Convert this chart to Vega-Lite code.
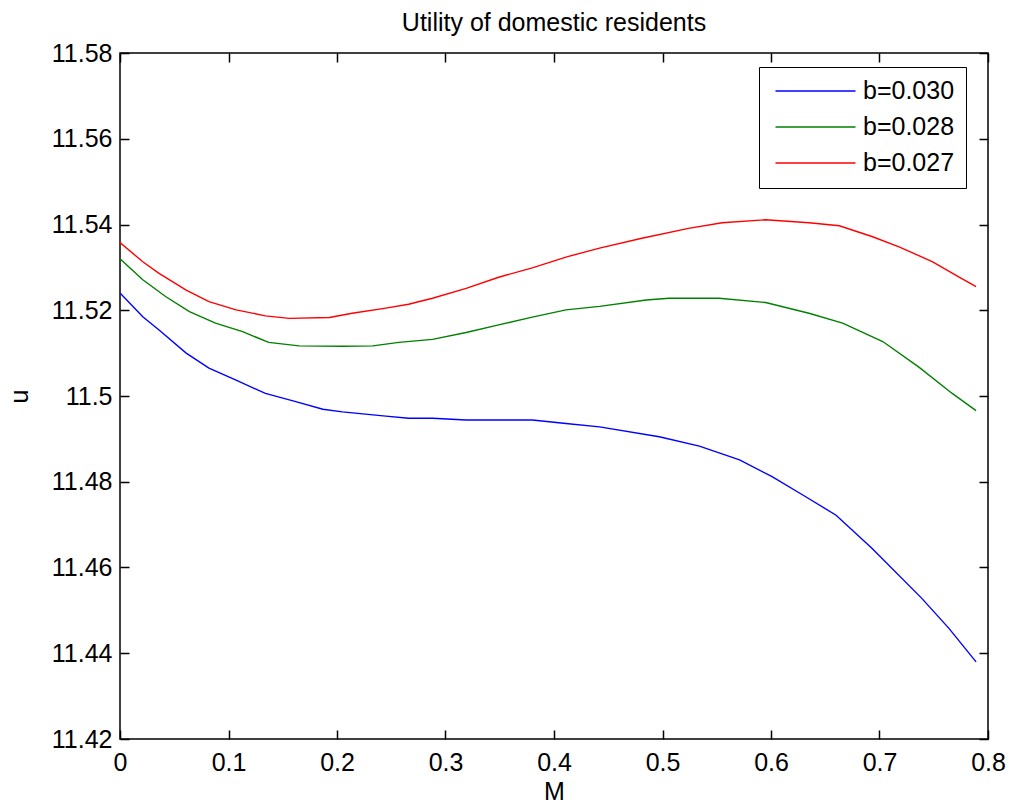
{
  "$schema": "https://vega.github.io/schema/vega-lite/v6.json",
  "width": 868,
  "height": 686,
  "autosize": "none",
  "padding": {"left": 120, "top": 53, "right": 23, "bottom": 73},
  "background": "white",
  "title": {"text": "Utility of domestic residents", "fontSize": 25, "fontWeight": "normal", "font": "Liberation Sans", "color": "black", "offset": 5, "anchor": "middle"},
  "config": {
    "view": {"stroke": "black", "strokeWidth": 1.5},
    "font": "Liberation Sans",
    "axis": {"grid": false, "domain": false, "tickColor": "black", "tickSize": -9, "tickWidth": 1.5, "labelColor": "black", "labelFontSize": 25, "titleFontSize": 25, "titleFontWeight": "normal", "titleColor": "black", "labelFont": "Liberation Sans", "titleFont": "Liberation Sans"}
  },
  "data": {"values": [
    {"b": "b=0.030", "M": 0.0, "u": 11.5240},
    {"b": "b=0.030", "M": 0.021, "u": 11.5185},
    {"b": "b=0.030", "M": 0.036, "u": 11.5154},
    {"b": "b=0.030", "M": 0.061, "u": 11.5100},
    {"b": "b=0.030", "M": 0.082, "u": 11.5065},
    {"b": "b=0.030", "M": 0.107, "u": 11.5037},
    {"b": "b=0.030", "M": 0.134, "u": 11.5006},
    {"b": "b=0.030", "M": 0.162, "u": 11.4987},
    {"b": "b=0.030", "M": 0.187, "u": 11.4969},
    {"b": "b=0.030", "M": 0.205, "u": 11.4963},
    {"b": "b=0.030", "M": 0.245, "u": 11.4953},
    {"b": "b=0.030", "M": 0.266, "u": 11.4948},
    {"b": "b=0.030", "M": 0.288, "u": 11.4948},
    {"b": "b=0.030", "M": 0.319, "u": 11.4944},
    {"b": "b=0.030", "M": 0.380, "u": 11.4944},
    {"b": "b=0.030", "M": 0.411, "u": 11.4936},
    {"b": "b=0.030", "M": 0.442, "u": 11.4928},
    {"b": "b=0.030", "M": 0.497, "u": 11.4905},
    {"b": "b=0.030", "M": 0.534, "u": 11.4883},
    {"b": "b=0.030", "M": 0.571, "u": 11.4851},
    {"b": "b=0.030", "M": 0.601, "u": 11.4812},
    {"b": "b=0.030", "M": 0.632, "u": 11.4765},
    {"b": "b=0.030", "M": 0.660, "u": 11.4722},
    {"b": "b=0.030", "M": 0.693, "u": 11.4645},
    {"b": "b=0.030", "M": 0.739, "u": 11.4528},
    {"b": "b=0.030", "M": 0.764, "u": 11.4458},
    {"b": "b=0.030", "M": 0.789, "u": 11.4380},
    {"b": "b=0.028", "M": 0.0, "u": 11.5320},
    {"b": "b=0.028", "M": 0.021, "u": 11.5271},
    {"b": "b=0.028", "M": 0.042, "u": 11.5232},
    {"b": "b=0.028", "M": 0.064, "u": 11.5197},
    {"b": "b=0.028", "M": 0.088, "u": 11.5170},
    {"b": "b=0.028", "M": 0.113, "u": 11.5150},
    {"b": "b=0.028", "M": 0.137, "u": 11.5125},
    {"b": "b=0.028", "M": 0.165, "u": 11.5117},
    {"b": "b=0.028", "M": 0.205, "u": 11.5116},
    {"b": "b=0.028", "M": 0.233, "u": 11.5117},
    {"b": "b=0.028", "M": 0.257, "u": 11.5125},
    {"b": "b=0.028", "M": 0.288, "u": 11.5132},
    {"b": "b=0.028", "M": 0.319, "u": 11.5148},
    {"b": "b=0.028", "M": 0.349, "u": 11.5166},
    {"b": "b=0.028", "M": 0.380, "u": 11.5184},
    {"b": "b=0.028", "M": 0.411, "u": 11.5201},
    {"b": "b=0.028", "M": 0.442, "u": 11.5209},
    {"b": "b=0.028", "M": 0.485, "u": 11.5224},
    {"b": "b=0.028", "M": 0.506, "u": 11.5228},
    {"b": "b=0.028", "M": 0.552, "u": 11.5228},
    {"b": "b=0.028", "M": 0.595, "u": 11.5218},
    {"b": "b=0.028", "M": 0.635, "u": 11.5193},
    {"b": "b=0.028", "M": 0.666, "u": 11.5170},
    {"b": "b=0.028", "M": 0.703, "u": 11.5127},
    {"b": "b=0.028", "M": 0.736, "u": 11.5068},
    {"b": "b=0.028", "M": 0.767, "u": 11.5006},
    {"b": "b=0.028", "M": 0.789, "u": 11.4966},
    {"b": "b=0.027", "M": 0.0, "u": 11.5358},
    {"b": "b=0.027", "M": 0.021, "u": 11.5313},
    {"b": "b=0.027", "M": 0.036, "u": 11.5286},
    {"b": "b=0.027", "M": 0.061, "u": 11.5247},
    {"b": "b=0.027", "M": 0.082, "u": 11.5220},
    {"b": "b=0.027", "M": 0.107, "u": 11.5201},
    {"b": "b=0.027", "M": 0.134, "u": 11.5187},
    {"b": "b=0.027", "M": 0.156, "u": 11.5181},
    {"b": "b=0.027", "M": 0.193, "u": 11.5183},
    {"b": "b=0.027", "M": 0.214, "u": 11.5193},
    {"b": "b=0.027", "M": 0.245, "u": 11.5205},
    {"b": "b=0.027", "M": 0.266, "u": 11.5214},
    {"b": "b=0.027", "M": 0.288, "u": 11.5228},
    {"b": "b=0.027", "M": 0.319, "u": 11.5251},
    {"b": "b=0.027", "M": 0.349, "u": 11.5277},
    {"b": "b=0.027", "M": 0.380, "u": 11.5299},
    {"b": "b=0.027", "M": 0.411, "u": 11.5324},
    {"b": "b=0.027", "M": 0.442, "u": 11.5345},
    {"b": "b=0.027", "M": 0.481, "u": 11.5368},
    {"b": "b=0.027", "M": 0.524, "u": 11.5391},
    {"b": "b=0.027", "M": 0.555, "u": 11.5404},
    {"b": "b=0.027", "M": 0.595, "u": 11.5411},
    {"b": "b=0.027", "M": 0.635, "u": 11.5404},
    {"b": "b=0.027", "M": 0.663, "u": 11.5397},
    {"b": "b=0.027", "M": 0.693, "u": 11.5372},
    {"b": "b=0.027", "M": 0.718, "u": 11.5348},
    {"b": "b=0.027", "M": 0.749, "u": 11.5313},
    {"b": "b=0.027", "M": 0.773, "u": 11.5278},
    {"b": "b=0.027", "M": 0.789, "u": 11.5255}
  ]},
  "layer": [
    {
      "mark": {"type": "line", "strokeWidth": 1.4, "clip": true},
      "encoding": {
        "x": {"field": "M", "type": "quantitative", "scale": {"domain": [0, 0.8], "nice": false, "zero": false},
              "axis": {"title": "M", "values": [0, 0.1, 0.2, 0.3, 0.4, 0.5, 0.6, 0.7, 0.8], "format": "~g", "labelPadding": 20, "titleY": 40, "labelFlush": false}},
        "y": {"field": "u", "type": "quantitative", "scale": {"domain": [11.42, 11.58], "nice": false, "zero": false},
              "axis": {"title": "u", "values": [11.42, 11.44, 11.46, 11.48, 11.5, 11.52, 11.54, 11.56, 11.58], "format": ".4~g", "labelPadding": 17, "titleX": -88, "labelFlush": false}},
        "color": {"field": "b", "type": "nominal",
                  "scale": {"domain": ["b=0.030", "b=0.028", "b=0.027"], "range": ["#0000ff", "#008000", "#ff0000"]},
                  "legend": {"title": null, "orient": "none", "legendX": 639, "legendY": 14, "symbolType": "M-4,0H4", "symbolSize": 400, "symbolStrokeWidth": 1.5, "symbolOffset": 32.5, "labelFontSize": 25, "labelColor": "black", "labelFont": "Liberation Sans", "labelExpr": "datum.label + '\u00a0'", "strokeColor": "black", "fillColor": "white", "padding": 11.5, "rowPadding": 10, "labelOffset": 35}}
      }
    },
    {
      "mark": {"type": "line", "opacity": 0},
      "encoding": {
        "x": {"field": "M", "type": "quantitative", "axis": {"orient": "top", "title": null, "labels": false, "values": [0, 0.1, 0.2, 0.3, 0.4, 0.5, 0.6, 0.7, 0.8]}},
        "y": {"field": "u", "type": "quantitative", "axis": {"orient": "right", "title": null, "labels": false, "values": [11.42, 11.44, 11.46, 11.48, 11.5, 11.52, 11.54, 11.56, 11.58]}}
      }
    }
  ],
  "resolve": {"axis": {"x": "independent", "y": "independent"}}
}
